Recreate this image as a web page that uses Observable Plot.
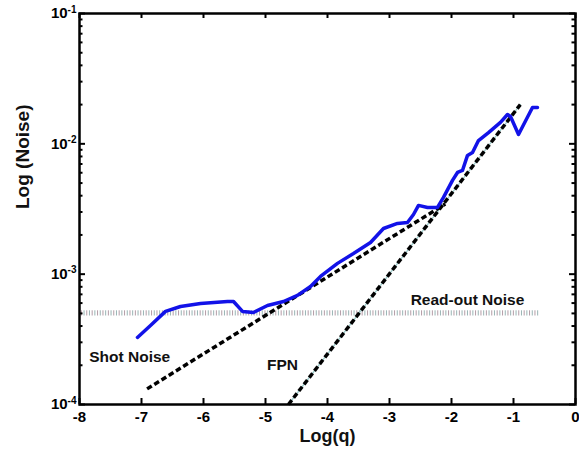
<!DOCTYPE html>
<html>
<head>
<meta charset="utf-8">
<script src="https://cdn.jsdelivr.net/npm/d3@7"></script>
<script src="https://cdn.jsdelivr.net/npm/@observablehq/plot@0.6"></script>
<style>
  html, body { margin: 0; padding: 0; background: #fff; }
  #chart svg { display: block; font-family: "Liberation Sans", Arial, sans-serif; }
</style>
</head>
<body>
<div id="chart"></div>
<script>
// ---- data ----
const xTicks = [-8, -7, -6, -5, -4, -3, -2, -1, 0];
const yTicks = [1e-4, 1e-3, 1e-2, 1e-1];

const measuredLogQ = [-7.065, -6.855, -6.613, -6.371, -6.048, -5.613, -5.516, -5.371, -5.194, -4.968,
  -4.710, -4.484, -4.274, -4.113, -3.839, -3.581, -3.306, -3.097, -2.871, -2.710,
  -2.613, -2.532, -2.387, -2.226, -2.129, -1.984, -1.903, -1.823, -1.742, -1.661,
  -1.565, -1.403, -1.210, -1.097, -1.048, -0.919, -0.694, -0.613];
const measuredNoise = [3.27e-4, 4.04e-4, 5.18e-4, 5.65e-4, 5.96e-4, 6.17e-4, 6.17e-4, 5.18e-4, 5.08e-4, 5.75e-4,
  6.17e-4, 6.87e-4, 8.05e-4, 9.6e-4, 1.21e-3, 1.44e-3, 1.75e-3, 2.24e-3, 2.45e-3, 2.49e-3,
  2.87e-3, 3.37e-3, 3.25e-3, 3.25e-3, 3.88e-3, 5.24e-3, 6.03e-3, 6.25e-3, 8.15e-3, 8.59e-3,
  1.06e-2, 1.22e-2, 1.46e-2, 1.68e-2, 1.62e-2, 1.18e-2, 1.90e-2, 1.90e-2];

const shotLogQ = [-6.91, -2.10];
const shotNoise = [1.318e-4, 3.46e-3];

const fpnLogQ = [-4.63, -0.89];
const fpnNoise = [1.0e-4, 2.0e-2];

const readoutLogQ = [-7.97, -0.58];
const readoutNoise = [5.0e-4, 5.0e-4];

const labelTexts = ["Shot Noise", "FPN", "Read-out Noise"];
const labelLogQ = [-7.19, -4.726, -1.742];
const labelNoise = [2.3e-4, 2.0e-4, 6.28e-4];

// ---- layout ----
const W = 579, H = 452;
const mL = 79, mR = 4, mT = 13, mB = 48;
const fw = W - mL - mR, fh = H - mT - mB;
const xDomain = [-8, 0], yDomain = [1e-4, 1e-1];

// ---- tables ----
const measured = measuredLogQ.map((x, i) => ({x, y: measuredNoise[i]}));
const shot = shotLogQ.map((x, i) => ({x, y: shotNoise[i]}));
const fpn = fpnLogQ.map((x, i) => ({x, y: fpnNoise[i]}));
const readout = readoutLogQ.map((x, i) => ({x, y: readoutNoise[i]}));
const labels = labelTexts.map((t, i) => ({t, x: labelLogQ[i], y: labelNoise[i]}));

const minorY = [];
for (let e = -4; e < -1; e++) for (let m = 2; m <= 9; m++) minorY.push(m * Math.pow(10, e));

// same scales as the plot, used to cut lines into screen-space dashes
const sx = Plot.scale({x: {domain: xDomain, range: [mL, W - mR]}});
const sy = Plot.scale({y: {type: "log", domain: yDomain, range: [H - mB, mT]}});

function dashSegments(pts, on, off) {
  const px = pts.map(p => [sx.apply(p.x), sy.apply(p.y)]);
  const segs = [];
  let drawing = true, remaining = on;
  for (let i = 0; i < px.length - 1; i++) {
    const [x0, y0] = px[i], [x1, y1] = px[i + 1];
    const len = Math.hypot(x1 - x0, y1 - y0);
    let t = 0;
    while (t < len - 1e-9) {
      const step = Math.min(remaining, len - t);
      if (drawing) {
        const a = t / len, b = (t + step) / len;
        segs.push({
          x1: sx.invert(x0 + (x1 - x0) * a), y1: sy.invert(y0 + (y1 - y0) * a),
          x2: sx.invert(x0 + (x1 - x0) * b), y2: sy.invert(y0 + (y1 - y0) * b)
        });
      }
      t += step; remaining -= step;
      if (remaining <= 1e-9) { drawing = !drawing; remaining = drawing ? on : off; }
    }
  }
  return segs;
}

function hatch(pts, spacing, half) {
  const xa = sx.apply(pts[0].x), xb = sx.apply(pts[1].x);
  const yp = sy.apply(pts[0].y);
  const out = [];
  let k = 0;
  for (let p = xa; p <= xb; p += spacing, k++) {
    out.push({x: sx.invert(p), y1: sy.invert(yp - half), y2: sy.invert(yp + half), k: k % 2});
  }
  return out;
}

const shotDashes = dashSegments(shot, 5.5, 3);
const fpnDashes = dashSegments(fpn, 5.5, 3);
const readoutHatch = hatch(readout, 2.7, 2.6);

const chart = Plot.plot({
  width: W, height: H,
  marginLeft: mL, marginRight: mR, marginTop: mT, marginBottom: mB,
  style: {fontFamily: "Liberation Sans, Arial, sans-serif", color: "#000", background: "#fff"},
  x: {domain: xDomain},
  y: {type: "log", domain: yDomain},
  marks: [
    // readout noise hatch band
    Plot.ruleX(readoutHatch, {x: "x", y1: "y1", y2: "y2", stroke: d => d.k ? "#98b4b4" : "#b49ca6", strokeWidth: 1}),
    // FPN dash-dot
    Plot.line(fpn, {x: "x", y: "y", stroke: "#9fcccc", strokeWidth: 1.3}),
    Plot.link(fpnDashes, {x1: "x1", y1: "y1", x2: "x2", y2: "y2", stroke: "#000", strokeWidth: 3.5}),
    // shot noise dashed
    Plot.link(shotDashes, {x1: "x1", y1: "y1", x2: "x2", y2: "y2", stroke: "#000", strokeWidth: 3.5}),
    // measured noise
    Plot.line(measured, {x: "x", y: "y", stroke: "#1212e8", strokeWidth: 3.5, strokeLinejoin: "round", strokeLinecap: "round"}),
    // annotations
    Plot.text(labels, {x: "x", y: "y", text: "t", fontSize: 15.5, fontWeight: "bold", fill: "#111"}),
    // ticks (inward)
    Plot.tickX(xTicks, {x: d => d, insetTop: fh - 6, stroke: "#000", strokeWidth: 2}),
    Plot.tickX(xTicks, {x: d => d, insetBottom: fh - 5, stroke: "#000", strokeWidth: 2}),
    Plot.tickY(yTicks, {y: d => d, insetRight: fw - 6, stroke: "#000", strokeWidth: 2}),
    Plot.tickY(yTicks, {y: d => d, insetLeft: fw - 6, stroke: "#000", strokeWidth: 2}),
    Plot.tickY(minorY, {y: d => d, insetRight: fw - 3.5, stroke: "#000", strokeWidth: 2}),
    Plot.tickY(minorY, {y: d => d, insetLeft: fw - 3.5, stroke: "#000", strokeWidth: 2}),
    // axes labels
    Plot.axisX({ticks: xTicks, tickSize: 0, tickPadding: 7, fontSize: 15, fontWeight: "bold", label: null, tickFormat: d => String(d)}),
    Plot.axisY({ticks: yTicks, tickSize: 0, tickPadding: 3, fontSize: 15, fontWeight: "bold", label: null, tickFormat: d => String(Math.round(Math.log10(d)))}),
    Plot.text(["Log (Noise)"], {frameAnchor: "left", dx: -57, rotate: -90, fontSize: 19, fontWeight: "bold", fill: "#111"}),
    Plot.text(["Log(q)"], {frameAnchor: "bottom", dy: 37, fontSize: 18, fontWeight: "bold", fill: "#111"}),
    Plot.frame({stroke: "#000", strokeWidth: 2.5})
  ]
});

// superscript exponents on y tick labels
d3.select(chart).selectAll('g[aria-label="y-axis tick label"] text').each(function() {
  const el = d3.select(this);
  const exp = el.text();
  el.text("10");
  el.append("tspan").attr("dy", "-0.55em").attr("font-size", 10).text(exp);
});

document.getElementById("chart").appendChild(chart);
</script>
</body>
</html>
